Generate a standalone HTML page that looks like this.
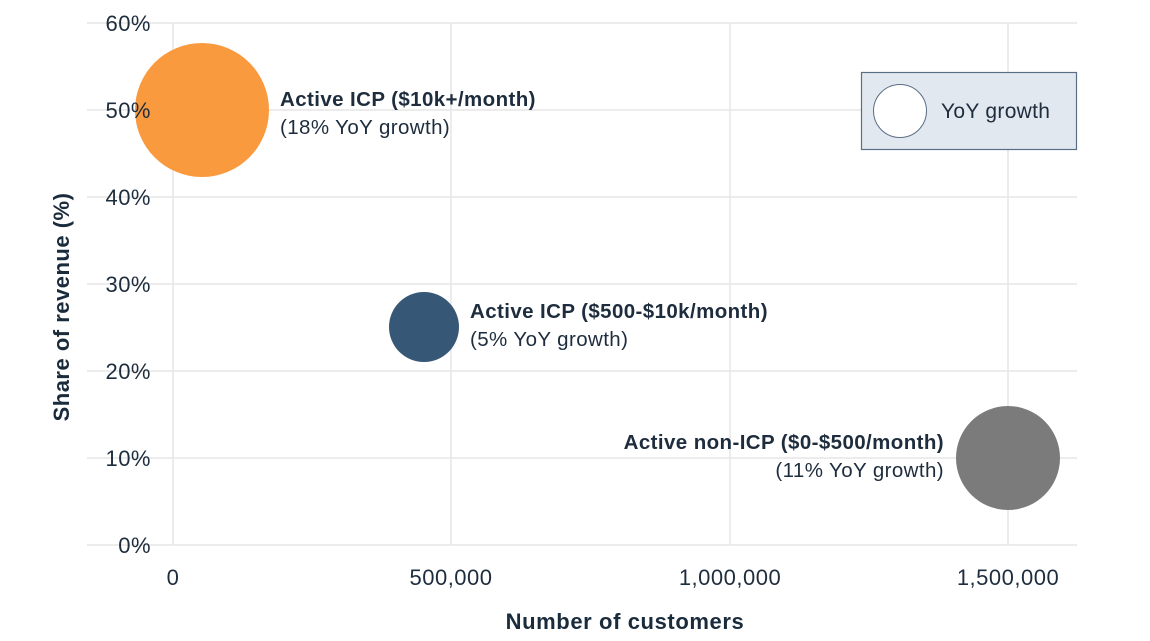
<!DOCTYPE html>
<html><head><meta charset="utf-8"><style>
html,body{margin:0;padding:0;background:#fff;}
svg{display:block;font-family:"Liberation Sans",sans-serif;}
</style></head><body>
<svg width="1150" height="641" viewBox="0 0 1150 641">
<g stroke="#e6e6e6" stroke-width="1.5">
<line x1="87" y1="23" x2="1077" y2="23"/>
<line x1="87" y1="110" x2="1077" y2="110"/>
<line x1="87" y1="197" x2="1077" y2="197"/>
<line x1="87" y1="284" x2="1077" y2="284"/>
<line x1="87" y1="371" x2="1077" y2="371"/>
<line x1="87" y1="458" x2="1077" y2="458"/>
<line x1="87" y1="545" x2="1077" y2="545"/>
<line x1="173" y1="23" x2="173" y2="545"/>
<line x1="451" y1="23" x2="451" y2="545"/>
<line x1="730" y1="23" x2="730" y2="545"/>
<line x1="1008" y1="23" x2="1008" y2="545"/>
</g>
<circle cx="202" cy="110" r="67" fill="#fa9a3f"/>
<circle cx="424" cy="327" r="35" fill="#375776"/>
<circle cx="1008" cy="458" r="52" fill="#7b7b7b"/>
<g fill="#1e2d3d" font-size="22" text-anchor="end" letter-spacing="0.5">
<text x="151" y="31">60%</text>
<text x="151" y="118">50%</text>
<text x="151" y="205">40%</text>
<text x="151" y="292">30%</text>
<text x="151" y="379">20%</text>
<text x="151" y="466">10%</text>
<text x="151" y="553">0%</text>
</g>
<g fill="#1e2d3d" font-size="22" text-anchor="middle" letter-spacing="0.5">
<text x="173" y="585">0</text>
<text x="451" y="585">500,000</text>
<text x="730" y="585">1,000,000</text>
<text x="1008" y="585">1,500,000</text>
</g>
<text x="625" y="629" text-anchor="middle" font-size="22" font-weight="bold" fill="#1a2b3c" letter-spacing="0.6">Number of customers</text>
<text transform="translate(69,307) rotate(-90)" text-anchor="middle" font-size="22" font-weight="bold" fill="#1a2b3c" letter-spacing="0.5">Share of revenue (%)</text>
<g fill="#1e2d3d" font-size="20.5" letter-spacing="0.4">
<text x="280" y="106" font-weight="bold">Active ICP ($10k+/month)</text>
<text x="280" y="134">(18% YoY growth)</text>
<text x="470" y="318" font-weight="bold">Active ICP ($500-$10k/month)</text>
<text x="470" y="346">(5% YoY growth)</text>
<text x="944" y="449" font-weight="bold" text-anchor="end">Active non-ICP ($0-$500/month)</text>
<text x="944" y="477" text-anchor="end">(11% YoY growth)</text>
</g>
<rect x="861.5" y="72.5" width="215" height="77" fill="#e2e8ef" stroke="#5a6e85" stroke-width="1.2"/>
<circle cx="900" cy="111" r="26.5" fill="#fff" stroke="#5a6e85" stroke-width="1"/>
<text x="941" y="118" font-size="21" fill="#1e2d3d" letter-spacing="0.3">YoY growth</text>
</svg>
</body></html>
